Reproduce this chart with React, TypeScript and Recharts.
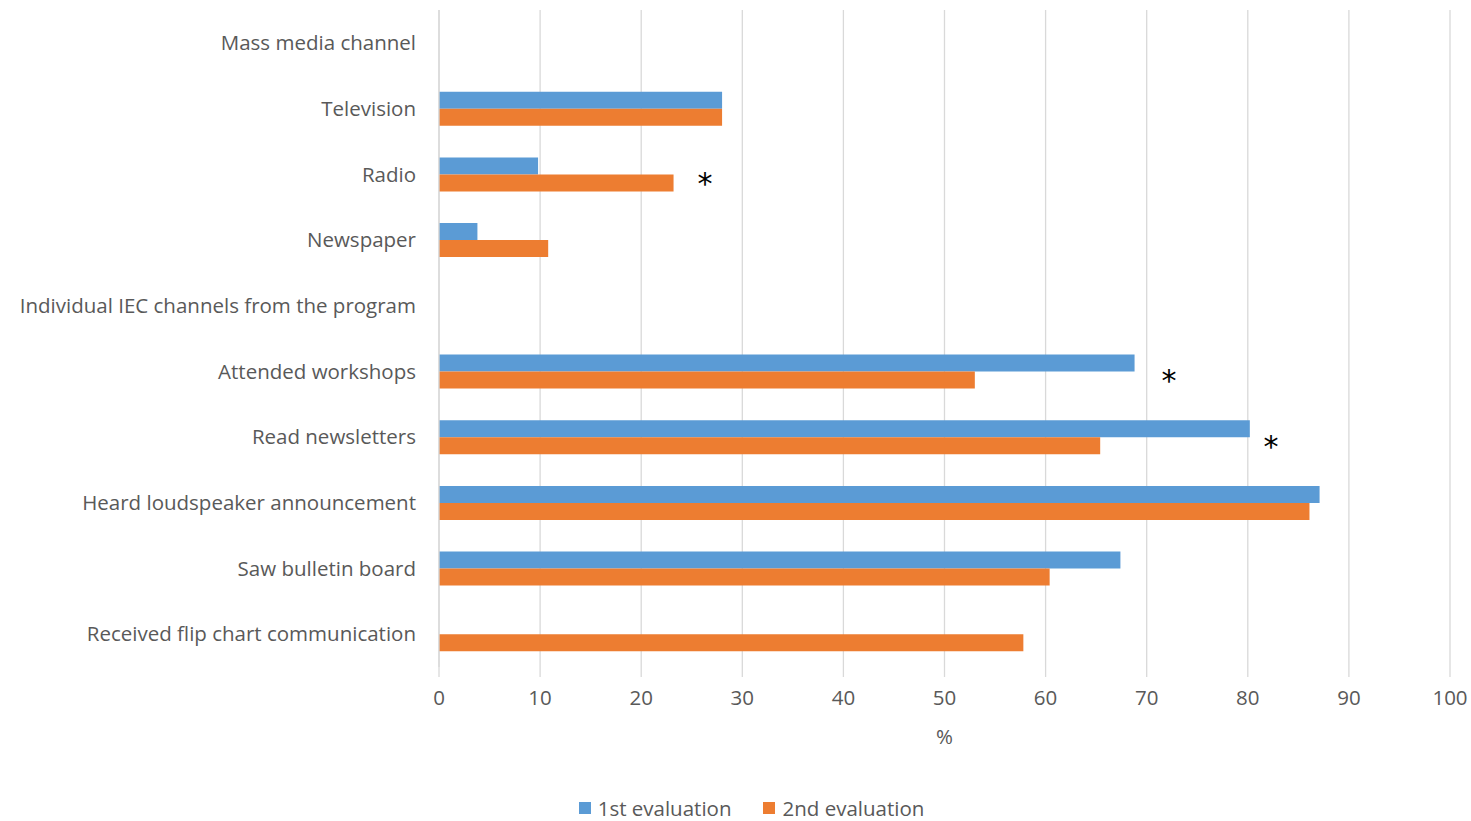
import {
  Bar,
  BarChart,
  CartesianGrid,
  Legend,
  ReferenceDot,
  XAxis,
  YAxis,
} from "recharts";

const categories = [
  "Mass media channel",
  "Television",
  "Radio",
  "Newspaper",
  "Individual IEC channels from the program",
  "Attended workshops",
  "Read newsletters",
  "Heard loudspeaker announcement",
  "Saw bulletin board",
  "Received flip chart communication",
];

const firstEval = [null, 28.0, 9.8, 3.8, null, 68.8, 80.2, 87.1, 67.4, 0];
const secondEval = [null, 28.0, 23.2, 10.8, null, 53.0, 65.4, 86.1, 60.4, 57.8];

// where the significance stars sit (x in %)
const stars = [
  { name: "Radio", x: 26.3 },
  { name: "Attended workshops", x: 72.2 },
  { name: "Read newsletters", x: 82.3 },
];

const xTicks = [0, 10, 20, 30, 40, 50, 60, 70, 80, 90, 100];

const data = categories.map((name, i) => ({
  name,
  first: firstEval[i],
  second: secondEval[i],
}));

const FONT = "'Open Sans', Lato, sans-serif";
const FS = 20.5;
const GREY = "#595959";
const GRID = "#d9d9d9";
const BLUE = "#5b9bd5";
const ORANGE = "#ed7d31";

const Star = (props: any) => (
  <text
    x={props.cx}
    y={props.cy + 20}
    textAnchor="middle"
    fontSize={30}
    fontFamily="'DejaVu Sans', sans-serif"
    fill="#000"
  >
    *
  </text>
);

const LegendContent = () => (
  <div
    style={{
      display: "flex",
      justifyContent: "center",
      gap: 32,
      fontFamily: FONT,
      fontSize: FS,
      color: GREY,
    }}
  >
    {[
      { label: "1st evaluation", color: BLUE },
      { label: "2nd evaluation", color: ORANGE },
    ].map((item) => (
      <div key={item.label} style={{ display: "flex", alignItems: "center" }}>
        <span
          style={{
            width: 12,
            height: 12,
            background: item.color,
            display: "inline-block",
            marginRight: 7,
          }}
        />
        {item.label}
      </div>
    ))}
  </div>
);

export default function App() {
  return (
    <div style={{ position: "absolute", left: 0, top: 0 }}>
      <BarChart
        width={1471}
        height={821}
        data={data}
        layout="vertical"
        margin={{ top: 10, right: 21, bottom: 0, left: 0 }}
        barSize={17}
        barGap={0}
      >
        <CartesianGrid horizontal={false} stroke={GRID} strokeWidth={1.3} />
        <XAxis
          type="number"
          domain={[0, 100]}
          ticks={xTicks}
          height={154}
          axisLine={false}
          tickLine={{ stroke: GRID, strokeWidth: 1.3 }}
          tickSize={10}
          tickMargin={13}
          tick={{ fill: GREY, fontSize: FS, fontFamily: FONT }}
          label={{
            value: "%",
            position: "insideTop",
            offset: 62,
            fill: GREY,
            fontSize: FS,
            fontFamily: FONT,
          }}
        />
        <YAxis
          type="category"
          dataKey="name"
          width={439}
          axisLine={{ stroke: GRID, strokeWidth: 1.3 }}
          tickLine={false}
          tickSize={0}
          tickMargin={23}
          interval={0}
          tick={{ fill: GREY, fontSize: FS, fontFamily: FONT }}
        />
        <Bar dataKey="first" name="1st evaluation" fill={BLUE} isAnimationActive={false} />
        <Bar dataKey="second" name="2nd evaluation" fill={ORANGE} isAnimationActive={false} />
        {stars.map((s) => (
          <ReferenceDot key={s.name} x={s.x} y={s.name} r={0} shape={Star} />
        ))}
        <Legend
          verticalAlign="middle"
          layout="horizontal"
          content={<LegendContent />}
          wrapperStyle={{ top: 794, left: 16, width: 1471 }}
        />
      </BarChart>
    </div>
  );
}
